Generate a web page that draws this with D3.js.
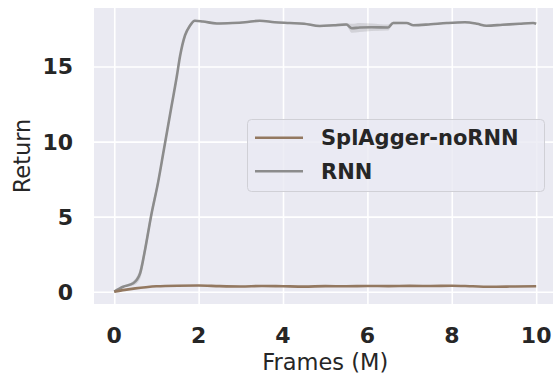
<!DOCTYPE html>
<html>
<head>
<meta charset="utf-8">
<script src="https://cdn.jsdelivr.net/npm/d3@7"></script>
<style>
  body { margin: 0; background: #ffffff; }
  svg { display: block; font-family: "DejaVu Sans", sans-serif; }
  .tick-label { font-weight: bold; fill: #262626; }
</style>
</head>
<body>
<svg id="chart"></svg>
<script>
// Series data
const rnnFrames = [0, 0.21, 0.45, 0.61, 0.73, 0.87, 1.04, 1.16, 1.36, 1.48, 1.56, 1.68, 1.79, 1.91, 2.1, 2.43, 2.8, 3.1, 3.45, 3.8, 4.16, 4.5, 4.87, 5.2, 5.5, 5.63, 5.82, 6.1, 6.49, 6.61, 6.93, 7.09, 7.5, 7.88, 8.31, 8.6, 8.82, 9.2, 9.6, 9.93, 10];
const rnnReturn = [0, 0.33, 0.56, 1.2, 2.8, 5.0, 7.3, 9.2, 12.4, 14.3, 15.7, 17.1, 17.7, 18.05, 18.0, 17.87, 17.9, 17.95, 18.05, 17.95, 17.9, 17.85, 17.7, 17.75, 17.8, 17.55, 17.6, 17.62, 17.6, 17.9, 17.9, 17.75, 17.82, 17.9, 17.95, 17.85, 17.72, 17.78, 17.85, 17.9, 17.85];
const rnnSpread = [0, 0.05, 0.15, 0.35, 0.4, 0.35, 0.3, 0.3, 0.25, 0.2, 0.15, 0.12, 0.1, 0.06, 0.05, 0.06, 0.05, 0.05, 0.05, 0.05, 0.05, 0.06, 0.06, 0.08, 0.1, 0.3, 0.3, 0.25, 0.2, 0.08, 0.06, 0.05, 0.05, 0.05, 0.05, 0.05, 0.05, 0.05, 0.05, 0.05, 0.05];

const aggFrames = [0, 0.25, 0.5, 0.75, 1.0, 1.5, 2, 2.5, 3, 3.5, 4, 4.5, 5, 5.5, 6, 6.5, 7, 7.5, 8, 8.5, 9, 9.5, 10];
const aggReturn = [0, 0.12, 0.22, 0.3, 0.36, 0.4, 0.41, 0.37, 0.35, 0.38, 0.36, 0.34, 0.37, 0.36, 0.38, 0.37, 0.39, 0.38, 0.4, 0.36, 0.33, 0.35, 0.36];

const xTicks = [0, 2, 4, 6, 8, 10];
const yTicks = [0, 5, 10, 15];
const seriesNames = ["SplAgger-noRNN", "RNN"];
const seriesColors = ["#937860", "#8c8c8c"];

const width = 553, height = 377;
// plot area (right edge runs past the window, as in the reference)
const plot = {left: 94, top: 8, right: 556, bottom: 304};

const svg = d3.select("#chart")
    .attr("width", width)
    .attr("height", height);

const x = d3.scaleLinear()
    .domain([-0.48, 10.47])
    .range([plot.left, plot.right]);

const y = d3.scaleLinear()
    .domain([-0.82, 18.9])
    .range([plot.bottom, plot.top]);

// background
svg.append("rect")
    .attr("x", plot.left)
    .attr("y", plot.top)
    .attr("width", plot.right - plot.left)
    .attr("height", plot.bottom - plot.top)
    .attr("fill", "#eaeaf2");

// grid
svg.append("g")
    .attr("transform", `translate(0, ${plot.bottom})`)
    .call(d3.axisBottom(x).tickValues(xTicks).tickSize(-(plot.bottom - plot.top)).tickFormat(""))
    .call(g => g.select(".domain").remove())
    .call(g => g.selectAll("line").attr("stroke", "#ffffff").attr("stroke-width", 1.6));

svg.append("g")
    .attr("transform", `translate(${plot.left}, 0)`)
    .call(d3.axisLeft(y).tickValues(yTicks).tickSize(-(plot.right - plot.left)).tickFormat(""))
    .call(g => g.select(".domain").remove())
    .call(g => g.selectAll("line").attr("stroke", "#ffffff").attr("stroke-width", 1.6));

// tick labels
svg.append("g")
    .selectAll("text")
    .data(xTicks)
    .join("text")
    .attr("class", "tick-label")
    .attr("x", d => x(d))
    .attr("y", 343)
    .attr("text-anchor", "middle")
    .attr("font-size", 22)
    .text(d => d);

svg.append("g")
    .selectAll("text")
    .data(yTicks)
    .join("text")
    .attr("class", "tick-label")
    .attr("x", 73)
    .attr("y", d => y(d))
    .attr("dy", "0.36em")
    .attr("text-anchor", "end")
    .attr("font-size", 22)
    .text(d => d);

// axis titles
svg.append("text")
    .attr("x", (x(0) + x(10)) / 2)
    .attr("y", 370)
    .attr("text-anchor", "middle")
    .attr("font-size", 22.5)
    .attr("fill", "#262626")
    .text("Frames (M)");

svg.append("text")
    .attr("transform", `translate(30, ${(plot.top + plot.bottom) / 2}) rotate(-90)`)
    .attr("text-anchor", "middle")
    .attr("font-size", 22.5)
    .attr("fill", "#262626")
    .text("Return");

// clip to plot
svg.append("clipPath").attr("id", "clip")
    .append("rect")
    .attr("x", plot.left).attr("y", plot.top)
    .attr("width", plot.right - plot.left).attr("height", plot.bottom - plot.top);

const lines = svg.append("g").attr("clip-path", "url(#clip)");

const rnnData = rnnFrames.map((f, i) => ({f, v: rnnReturn[i], s: rnnSpread[i]}));
const aggData = aggFrames.map((f, i) => ({f, v: aggReturn[i]}));

const line = d3.line().x(d => x(d.f)).y(d => y(d.v)).curve(d3.curveMonotoneX);
const band = d3.area().x(d => x(d.f)).y0(d => y(d.v - d.s)).y1(d => y(d.v + d.s)).curve(d3.curveMonotoneX);

lines.append("path")
    .datum(rnnData)
    .attr("d", band)
    .attr("fill", seriesColors[1])
    .attr("fill-opacity", 0.25);

lines.append("path")
    .datum(rnnData)
    .attr("d", line)
    .attr("fill", "none")
    .attr("stroke", seriesColors[1])
    .attr("stroke-width", 2.6)
    .attr("stroke-linejoin", "round");

lines.append("path")
    .datum(aggData)
    .attr("d", line)
    .attr("fill", "none")
    .attr("stroke", seriesColors[0])
    .attr("stroke-width", 2.6)
    .attr("stroke-linejoin", "round");

// legend
const legend = svg.append("g");
legend.append("rect")
    .attr("x", 247.5).attr("y", 119.5)
    .attr("width", 297).attr("height", 72)
    .attr("rx", 4)
    .attr("fill", "#eaeaf2").attr("fill-opacity", 0.8)
    .attr("stroke", "#d0d0d6").attr("stroke-width", 1);

const items = legend.selectAll("g.item")
    .data(seriesNames)
    .join("g")
    .attr("class", "item")
    .attr("transform", (d, i) => `translate(0, ${137.7 + i * 33.6})`);

items.append("line")
    .attr("x1", 255).attr("x2", 303)
    .attr("stroke", (d, i) => seriesColors[i])
    .attr("stroke-width", 2.6);

items.append("text")
    .attr("x", 321)
    .attr("dy", "0.36em")
    .attr("font-size", 21)
    .attr("font-weight", "bold")
    .attr("fill", "#262626")
    .text(d => d);
</script>
</body>
</html>
